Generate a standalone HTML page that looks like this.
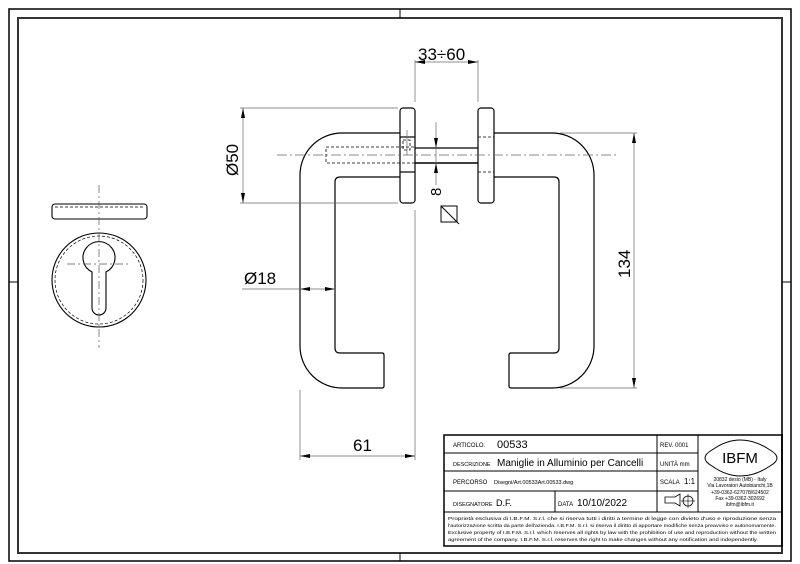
<!DOCTYPE html>
<html><head><meta charset="utf-8"><style>
html,body{margin:0;padding:0;background:#fff}
svg{display:block}
text{font-family:"Liberation Sans",sans-serif;fill:#000}
</style></head><body>
<svg width="800" height="564" viewBox="0 0 800 564" xmlns="http://www.w3.org/2000/svg">
<g fill="none" stroke="#000">
<rect x="9" y="9" width="782" height="552" stroke-width="1.5"/>
<rect x="18" y="18" width="764" height="535" stroke-width="2" stroke="#333"/>
<line x1="400" y1="9" x2="400" y2="18"/><line x1="400" y1="553" x2="400" y2="561"/>
<line x1="9" y1="282" x2="18" y2="282"/><line x1="782" y1="282" x2="791" y2="282"/>
</g>
<!-- handle -->
<g fill="none" stroke="#000" stroke-width="1.2">
<path d="M400 133 H342 A42 42 0 0 0 300 175 V346 A42 42 0 0 0 342 388 H382 Q384 388 384 386 V355 Q384 353 382 353 H340 Q335 353 335 348 V182 Q335 177 340 177 H400"/>
<path d="M494 133 H552 A42 42 0 0 1 594 175 V346 A42 42 0 0 1 552 388 H511 Q509 388 509 386 V355 Q509 353 511 353 H554 Q559 353 559 348 V182 Q559 177 554 177 H494"/>
<rect x="400" y="108" width="15" height="95" rx="3"/>
<rect x="478" y="108" width="16" height="95" rx="3"/>
<line x1="400" y1="137" x2="415" y2="137"/><line x1="400" y1="172" x2="415" y2="172"/>
<line x1="415" y1="148" x2="478" y2="148"/><line x1="415" y1="163" x2="478" y2="163" stroke-width="1.6"/>
</g>
<g fill="none" stroke="#000" stroke-width="0.8" stroke-dasharray="3,2">
<rect x="326" y="147" width="89" height="16"/>
<line x1="478" y1="137" x2="494" y2="137"/><line x1="478" y1="172" x2="494" y2="172"/>
<rect x="403" y="140" width="7" height="10"/>
</g>
<g stroke="#666" stroke-width="0.7" fill="none">
<line x1="277" y1="155" x2="618" y2="155" stroke-dasharray="10,3,2,3"/>
<line x1="407" y1="130" x2="407" y2="155"/>
<line x1="415" y1="60" x2="415" y2="102"/><line x1="478" y1="60" x2="478" y2="102"/>
<line x1="415" y1="62" x2="478" y2="62"/>
<line x1="240" y1="108" x2="398" y2="108"/><line x1="240" y1="203" x2="398" y2="203"/>
<line x1="243" y1="108" x2="243" y2="203"/>
<line x1="560" y1="133" x2="637" y2="133"/><line x1="560" y1="388" x2="637" y2="388"/>
<line x1="634" y1="133" x2="634" y2="388"/>
<line x1="300" y1="390" x2="300" y2="460"/><line x1="415" y1="210" x2="415" y2="460"/>
<line x1="300" y1="456" x2="415" y2="456"/>
<line x1="242" y1="289" x2="335" y2="289"/>
<line x1="436" y1="122" x2="436" y2="185"/>
</g>
<g fill="#000">
<path d="M415 62 l10 -2 v4z"/><path d="M478 62 l-10 -2 v4z"/>
<path d="M243 108 l-2 10 h4z"/><path d="M243 203 l-2 -10 h4z"/>
<path d="M634 133 l-2 10 h4z"/><path d="M634 388 l-2 -10 h4z"/>
<path d="M300 456 l10 -2 v4z"/><path d="M415 456 l-10 -2 v4z"/>
<path d="M300 289 l10 -2 v4z"/><path d="M335 289 l-10 -2 v4z"/>
<path d="M436 148 l-2 -10 h4z"/><path d="M436 163 l-2 10 h4z"/>
</g>
<text x="418" y="60" font-size="17">33÷60</text>
<text x="238" y="176" font-size="17" transform="rotate(-90 238 176)">Ø50</text>
<text x="630" y="278" font-size="17" transform="rotate(-90 630 278)">134</text>
<text x="353" y="451" font-size="17">61</text>
<text x="244" y="284" font-size="17">Ø18</text>
<text x="433" y="204" font-size="15" transform="rotate(-90 433 196)">8</text>
<g fill="none" stroke="#000" stroke-width="1">
<rect x="441" y="206" width="16" height="16"/><line x1="441" y1="206" x2="459" y2="224"/>
</g>
<g fill="none" stroke="#000" stroke-width="1.1">
<rect x="52" y="204" width="95" height="15" rx="3"/>
<circle cx="99" cy="280" r="47"/>
<path d="M92 308 V272 A16 16 0 1 1 106 272 V308 A7 7 0 0 1 92 308Z"/>
</g>
<g fill="none" stroke="#000" stroke-width="0.7" stroke-dasharray="3,2">
<circle cx="99" cy="280" r="44"/>
<line x1="55" y1="207" x2="144" y2="207"/>
</g>
<g stroke="#555" stroke-width="0.7" stroke-dasharray="8,3,2,3">
<line x1="99" y1="185" x2="99" y2="348"/>
<line x1="67" y1="264" x2="130" y2="264"/>
</g>
<g fill="none" stroke="#000" stroke-width="1">
<rect x="444" y="435" width="338" height="111" stroke-width="1.5"/>
<line x1="444" y1="453" x2="698" y2="453"/>
<line x1="444" y1="471" x2="698" y2="471"/>
<line x1="444" y1="491" x2="698" y2="491"/>
<line x1="444" y1="512" x2="782" y2="512"/>
<line x1="657" y1="435" x2="657" y2="512"/>
<line x1="698" y1="435" x2="698" y2="512"/>
<line x1="555" y1="491" x2="555" y2="512"/>
<path d="M712 450 Q740 430 770 450 Q784 458 770 466 Q740 486 712 466 Q698 458 712 450Z"/>
<path d="M665 497 h10 l5 -3 v12 l-5 -3 h-10z" stroke-width="0.8"/>
<circle cx="688" cy="501" r="5" stroke-width="0.8"/>
<line x1="681" y1="501" x2="695" y2="501" stroke-width="0.6"/><line x1="688" y1="494" x2="688" y2="508" stroke-width="0.6"/>
</g>
<g font-size="6">
<text x="453" y="447">ARTICOLO.</text>
<text x="497" y="448" font-size="11">00533</text>
<text x="453" y="466" font-size="5.5">DESCRIZIONE</text>
<text x="497" y="466" font-size="10">Maniglie in Alluminio per Cancelli</text>
<text x="453" y="484">PERCORSO</text>
<text x="494" y="484" font-size="5.5">Disegni/Art.00533Art.00533.dwg</text>
<text x="453" y="506" font-size="5.5">DISEGNATORE</text>
<text x="496" y="506" font-size="9">D.F.</text>
<text x="558" y="506">DATA</text>
<text x="577" y="506" font-size="10">10/10/2022</text>
<text x="660" y="447">REV. 0001</text>
<text x="660" y="466">UNITÀ mm</text>
<text x="660" y="484">SCALA</text><text x="684" y="484" font-size="8">1:1</text>
<text x="740" y="463" font-size="15" text-anchor="middle" font-family="Liberation Serif">IBFM</text>
<text x="740" y="481" font-size="5" text-anchor="middle">20832 desio (MB) - Italy</text>
<text x="740" y="487" font-size="5" text-anchor="middle">Via Lavoratori Autobianchi,1B</text>
<text x="740" y="494" font-size="5" text-anchor="middle">+39-0362-627078/624502</text>
<text x="740" y="500" font-size="5" text-anchor="middle">Fax +39-0362-302692</text>
<text x="740" y="506" font-size="5" text-anchor="middle">ibfm@ibfm.it</text>
<g font-size="4.8">
<text x="448" y="520" textLength="328" lengthAdjust="spacingAndGlyphs">Proprietà esclusiva di I.B.F.M. S.r.l. che si riserva tutti i diritti a termine di legge con divieto d'uso e riproduzione senza</text>
<text x="448" y="527" textLength="328" lengthAdjust="spacingAndGlyphs">l'autorizzazione scritta da parte dell'azienda. I.B.F.M. S.r.l. si riserva il diritto di apportare modifiche senza preavviso e autonomamente.</text>
<text x="448" y="534" textLength="328" lengthAdjust="spacingAndGlyphs">Exclusive property of I.B.F.M. S.r.l. which reserves all rights by law with the prohibition of use and reproduction without the written</text>
<text x="448" y="541" textLength="310" lengthAdjust="spacingAndGlyphs">agreement of the company. I.B.F.M. S.r.l. reserves the right to make changes without any notification and independently.</text>
</g>
</g>
</svg>
</body></html>
